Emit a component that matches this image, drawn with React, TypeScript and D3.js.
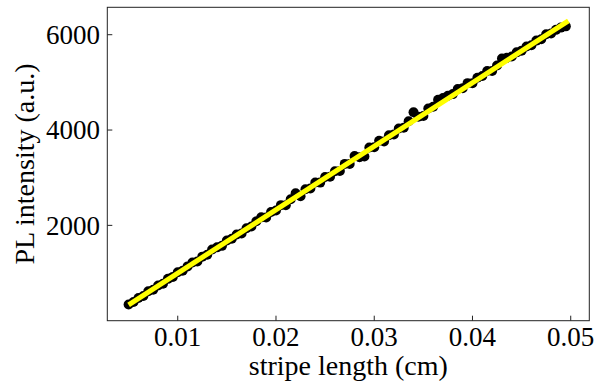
import React from "react";
import * as d3 from "d3";

const stripeLength: number[] = [
  0.005, 0.0055, 0.006, 0.0065, 0.007, 0.0075, 0.008, 0.0085, 0.009, 0.0095,
  0.01, 0.0105, 0.011, 0.0115, 0.012, 0.0125, 0.013, 0.0135, 0.014, 0.0145,
  0.015, 0.0155, 0.016, 0.0165, 0.017, 0.0175, 0.018, 0.0185, 0.019, 0.0195,
  0.02, 0.0205, 0.021, 0.0215, 0.022, 0.0225, 0.023, 0.0235, 0.024, 0.0245,
  0.025, 0.0255, 0.026, 0.0265, 0.027, 0.0275, 0.028, 0.0285, 0.029, 0.0295,
  0.03, 0.0305, 0.031, 0.0315, 0.032, 0.0325, 0.033, 0.0335, 0.034, 0.0345,
  0.035, 0.0355, 0.036, 0.0365, 0.037, 0.0375, 0.038, 0.0385, 0.039, 0.0395,
  0.04, 0.0405, 0.041, 0.0415, 0.042, 0.0425, 0.043, 0.0435, 0.044, 0.0445,
  0.045, 0.0455, 0.046, 0.0465, 0.047, 0.0475, 0.048, 0.0485, 0.049, 0.0495,
];

const plIntensity: number[] = [
  340, 392, 478, 520, 616, 648, 740, 776, 878, 919,
  1016, 1047, 1139, 1221, 1242, 1344, 1385, 1492, 1539, 1570,
  1682, 1718, 1810, 1831, 1938, 1975, 2086, 2168, 2164, 2281,
  2313, 2424, 2421, 2547, 2674, 2610, 2757, 2774, 2900, 2897,
  3013, 3020, 3136, 3143, 3290, 3286, 3453, 3429, 3446, 3632,
  3639, 3776, 3762, 3889, 3905, 4032, 4049, 4185, 4372, 4278,
  4295, 4451, 4488, 4635, 4671, 4718, 4754, 4861, 4878, 4984,
  4981, 5097, 5134, 5240, 5237, 5354, 5500, 5517, 5543, 5630,
  5666, 5753, 5780, 5876, 5903, 6009, 6026, 6102, 6149, 6175,
];

const fitX: number[] = [0.005, 0.04976];
const fitY: number[] = [330, 6292];

const xTicks: number[] = [0.01, 0.02, 0.03, 0.04, 0.05];
const yTicks: number[] = [2000, 4000, 6000];

const W = 599;
const H = 383;
const left = 107.3;
const right = 589.3;
const top = 7.3;
const bottom = 320.7;

const font = '"Liberation Serif", Tinos, "Times New Roman", Times, serif';

export default function App() {
  const x = d3.scaleLinear().domain([0.00283, 0.05189]).range([left, right]);
  const y = d3.scaleLinear().domain([0, 6575]).range([bottom, top]);
  const line = d3
    .line<number>()
    .x((_, i) => x(fitX[i]))
    .y((d) => y(d));
  const txt = { fontFamily: font, fill: "#000" } as React.CSSProperties;
  return (
    <svg
      width={W}
      height={H}
      style={{ position: "absolute", left: 0, top: 0, background: "#fff" }}
    >
      <defs>
        <clipPath id="plotclip">
          <rect x={left} y={top} width={right - left} height={bottom - top} />
        </clipPath>
      </defs>
      <g clipPath="url(#plotclip)">
        {plIntensity.map((v, i) => (
          <circle key={i} cx={x(stripeLength[i])} cy={y(v)} r={5} fill="#000" />
        ))}
        <path d={line(fitY) || ""} stroke="#ffff00" strokeWidth={5} fill="none" />
      </g>
      <rect
        x={left}
        y={top}
        width={right - left}
        height={bottom - top}
        fill="none"
        stroke="#222"
        strokeWidth={1}
      />
      {xTicks.map((t) => (
        <g key={t}>
          <line x1={x(t)} x2={x(t)} y1={bottom} y2={bottom - 5} stroke="#222" strokeWidth={1} />
          <text x={x(t)} y={346} textAnchor="middle" style={{ ...txt, fontSize: 27 }}>
            {t.toFixed(2)}
          </text>
        </g>
      ))}
      {yTicks.map((t) => (
        <g key={t}>
          <line x1={left} x2={left + 5} y1={y(t)} y2={y(t)} stroke="#222" strokeWidth={1} />
          <text x={100} y={y(t)} dy="0.35em" textAnchor="end" style={{ ...txt, fontSize: 27 }}>
            {t}
          </text>
        </g>
      ))}
      <text
        x={(left + right) / 2}
        y={375}
        textAnchor="middle"
        style={{ ...txt, fontSize: 28 }}
      >
        stripe length (cm)
      </text>
      <text
        transform={`translate(34,${(top + bottom) / 2}) rotate(-90)`}
        textAnchor="middle"
        style={{ ...txt, fontSize: 28 }}
      >
        PL intensity (a.u.)
      </text>
    </svg>
  );
}
